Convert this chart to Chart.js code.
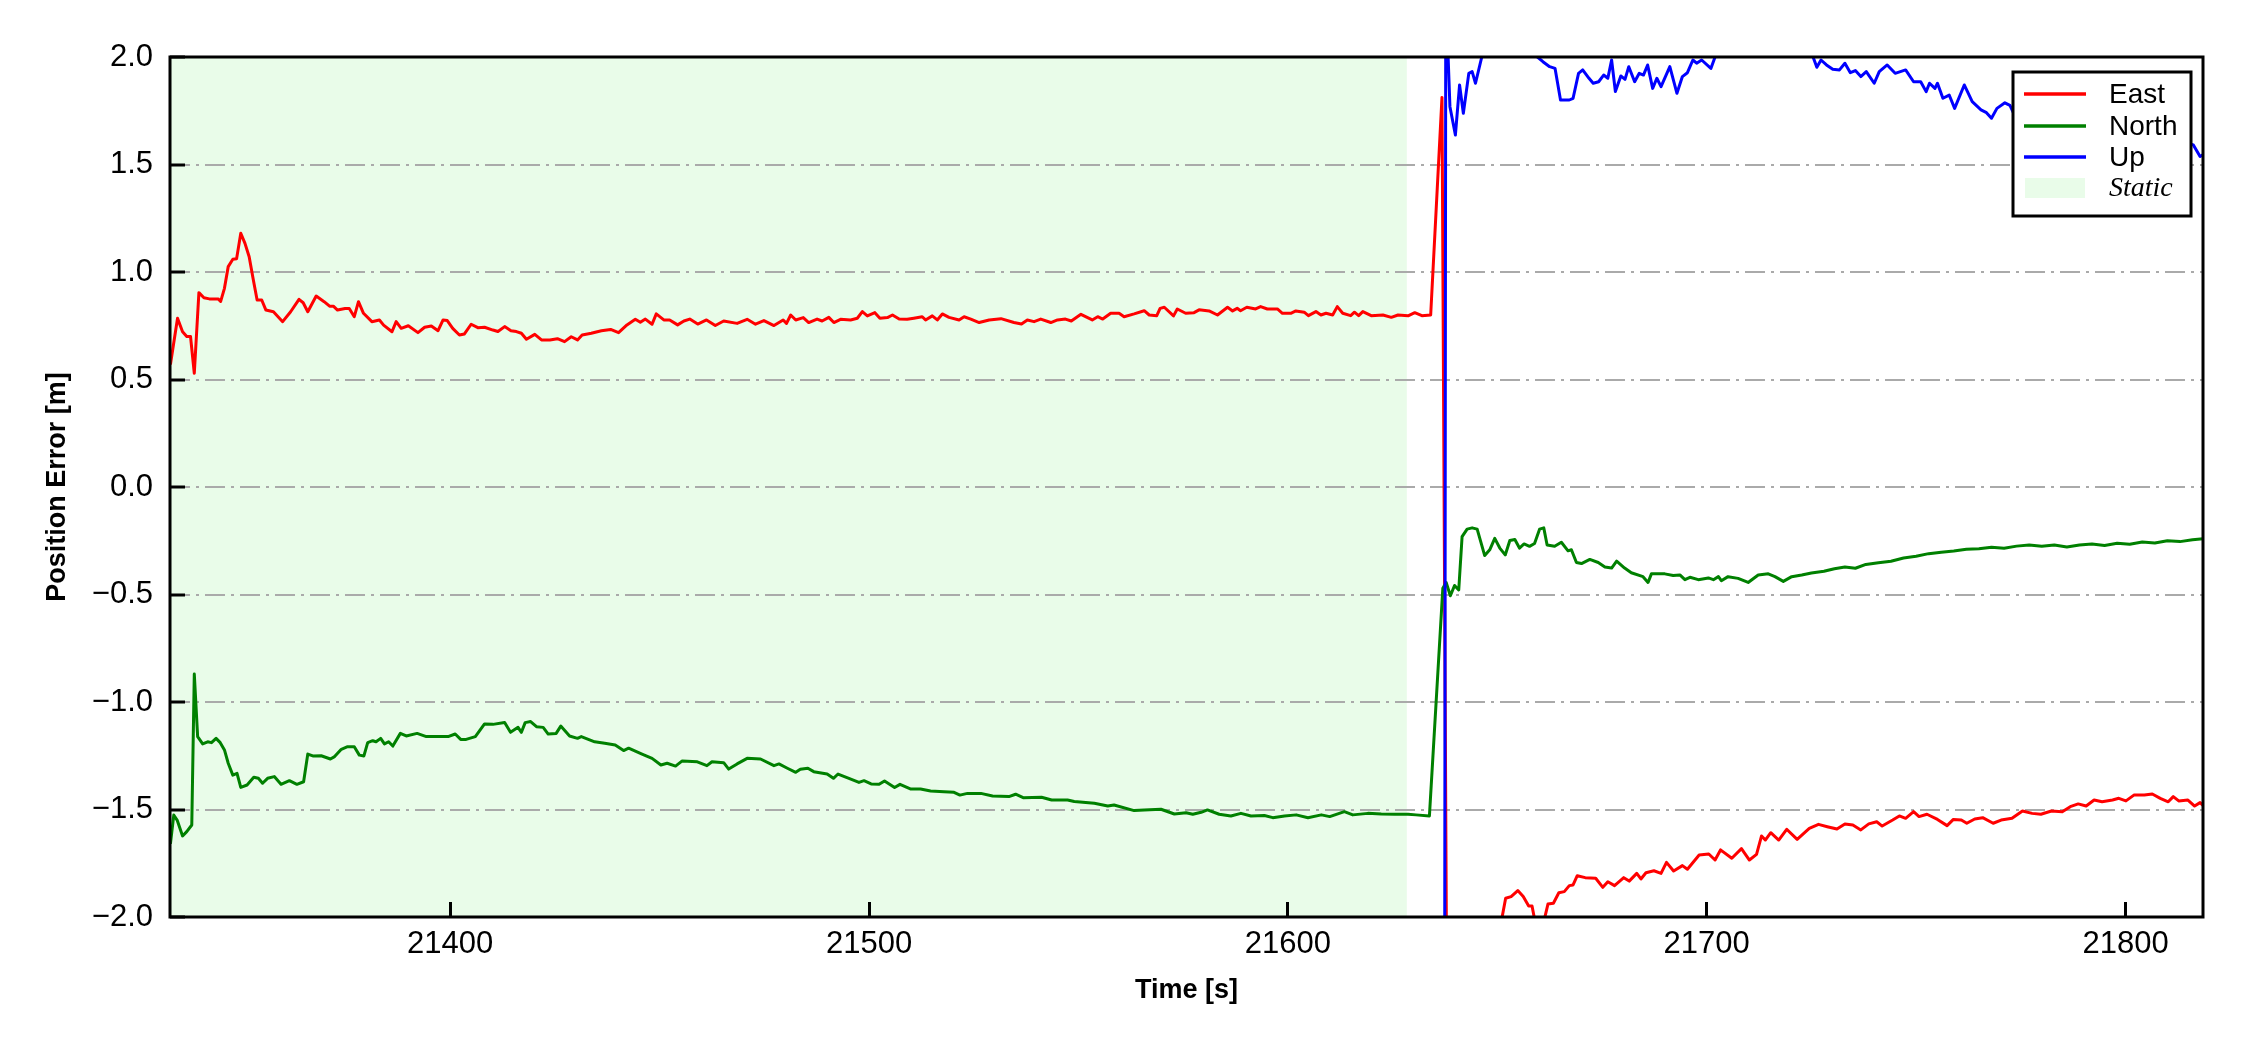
<!DOCTYPE html>
<html>
<head>
<meta charset="utf-8">
<script src="https://cdn.jsdelivr.net/npm/chart.js@4.4.1/dist/chart.umd.min.js"></script>
<style>
  html, body { margin: 0; padding: 0; background: #fff; }
  #wrap { width: 2250px; height: 1050px; }
</style>
</head>
<body>
<div id="wrap"><canvas id="errorChart" width="2250" height="1050"></canvas></div>
<script>
// position error vs time
const eastTime = [21333.2, 21334.9, 21336.1, 21337.1, 21338.0, 21338.9, 21340.0, 21341.2, 21342.5, 21344.6, 21345.2, 21346.1, 21347.0, 21348.1, 21349.0, 21350.0, 21351.0, 21352.0, 21353.0, 21353.9, 21355.0, 21356.0, 21357.8, 21360.0, 21361.9, 21363.9, 21364.9, 21366.0, 21368.0, 21369.9, 21371.2, 21372.1, 21373.1, 21374.9, 21375.9, 21377.1, 21378.1, 21379.3, 21381.3, 21383.1, 21384.1, 21386.1, 21387.1, 21388.3, 21390.0, 21392.3, 21393.9, 21395.5, 21397.1, 21398.3, 21399.3, 21400.6, 21402.2, 21403.4, 21405.0, 21406.6, 21408.2, 21410.2, 21411.4, 21413.0, 21414.5, 21415.8, 21417.0, 21418.2, 21420.2, 21421.8, 21423.8, 21425.6, 21427.3, 21428.9, 21430.4, 21431.5, 21433.7, 21436.1, 21438.3, 21440.2, 21442.2, 21444.2, 21445.4, 21446.6, 21448.2, 21449.2, 21451.0, 21452.4, 21454.3, 21455.8, 21457.2, 21459.1, 21461.2, 21463.3, 21465.3, 21468.5, 21470.9, 21472.9, 21474.9, 21477.3, 21479.5, 21480.3, 21481.3, 21482.5, 21484.3, 21485.6, 21487.6, 21488.8, 21490.4, 21491.6, 21493.2, 21495.6, 21497.2, 21498.4, 21499.6, 21501.4, 21502.6, 21504.4, 21505.6, 21507.2, 21509.1, 21510.7, 21512.7, 21513.5, 21515.1, 21516.3, 21517.5, 21519.1, 21521.5, 21522.7, 21524.3, 21526.3, 21528.7, 21531.5, 21534.6, 21536.4, 21537.8, 21539.4, 21541.0, 21543.4, 21545.0, 21546.9, 21548.3, 21550.6, 21553.3, 21554.6, 21555.8, 21557.7, 21559.7, 21560.9, 21563.3, 21565.7, 21566.9, 21568.7, 21569.5, 21570.5, 21572.7, 21573.6, 21575.6, 21577.6, 21578.8, 21581.2, 21583.2, 21585.6, 21586.8, 21587.9, 21588.7, 21590.2, 21592.3, 21593.5, 21595.1, 21597.5, 21598.7, 21600.7, 21601.9, 21603.9, 21604.9, 21606.7, 21607.9, 21609.1, 21610.7, 21611.8, 21613.1, 21615.0, 21615.9, 21616.9, 21617.9, 21619.9, 21622.7, 21624.7, 21626.3, 21628.7, 21630.3, 21632.0, 21634.1, 21636.8, 21638.0, 21642.0, 21646.0, 21650.2, 21652.0, 21653.3, 21654.9, 21656.2, 21657.5, 21658.3, 21659.8, 21660.4, 21662.1, 21663.4, 21664.7, 21666.0, 21667.2, 21668.1, 21669.1, 21671.0, 21673.5, 21675.2, 21676.4, 21678.0, 21680.2, 21681.5, 21683.3, 21684.3, 21685.5, 21687.4, 21689.1, 21690.4, 21692.1, 21694.2, 21695.4, 21698.2, 21700.5, 21702.0, 21703.3, 21706.0, 21708.3, 21710.2, 21711.9, 21713.1, 21714.0, 21715.3, 21717.2, 21719.1, 21721.6, 21724.5, 21726.7, 21728.8, 21731.1, 21733.0, 21734.9, 21736.8, 21738.7, 21740.6, 21741.9, 21744.4, 21746.0, 21747.5, 21749.4, 21750.7, 21752.6, 21755.1, 21757.4, 21758.9, 21760.8, 21762.1, 21764.0, 21765.9, 21768.4, 21770.3, 21772.9, 21775.4, 21777.7, 21779.8, 21782.3, 21784.9, 21786.8, 21788.7, 21790.6, 21792.5, 21794.4, 21796.9, 21798.4, 21800.1, 21802.0, 21804.5, 21806.4, 21808.3, 21810.2, 21811.4, 21812.7, 21814.9, 21816.5, 21817.8, 21819.0];
const eastErr = [0.57, 0.785, 0.722, 0.70, 0.70, 0.529, 0.904, 0.88, 0.875, 0.875, 0.863, 0.924, 1.025, 1.059, 1.062, 1.18, 1.133, 1.071, 0.963, 0.870, 0.87, 0.823, 0.815, 0.769, 0.815, 0.873, 0.857, 0.815, 0.888, 0.862, 0.841, 0.841, 0.823, 0.83, 0.83, 0.792, 0.862, 0.808, 0.769, 0.777, 0.753, 0.722, 0.769, 0.738, 0.75, 0.718, 0.743, 0.749, 0.727, 0.777, 0.774, 0.738, 0.707, 0.712, 0.757, 0.741, 0.743, 0.73, 0.723, 0.746, 0.727, 0.723, 0.715, 0.687, 0.71, 0.684, 0.684, 0.690, 0.676, 0.699, 0.684, 0.707, 0.715, 0.727, 0.733, 0.718, 0.754, 0.780, 0.766, 0.781, 0.757, 0.805, 0.777, 0.777, 0.754, 0.772, 0.781, 0.758, 0.777, 0.751, 0.772, 0.761, 0.780, 0.757, 0.774, 0.751, 0.777, 0.761, 0.800, 0.777, 0.788, 0.765, 0.781, 0.772, 0.789, 0.765, 0.780, 0.777, 0.785, 0.816, 0.796, 0.811, 0.785, 0.788, 0.800, 0.781, 0.780, 0.785, 0.792, 0.777, 0.796, 0.777, 0.805, 0.789, 0.777, 0.792, 0.781, 0.765, 0.777, 0.783, 0.765, 0.758, 0.777, 0.769, 0.781, 0.765, 0.777, 0.781, 0.772, 0.803, 0.777, 0.792, 0.781, 0.808, 0.808, 0.792, 0.805, 0.820, 0.800, 0.797, 0.831, 0.836, 0.796, 0.828, 0.808, 0.811, 0.824, 0.819, 0.800, 0.836, 0.819, 0.831, 0.820, 0.836, 0.828, 0.839, 0.828, 0.828, 0.808, 0.808, 0.819, 0.813, 0.797, 0.816, 0.800, 0.808, 0.800, 0.839, 0.808, 0.797, 0.813, 0.797, 0.816, 0.797, 0.800, 0.789, 0.800, 0.796, 0.811, 0.797, 0.800, 1.812, -2.6, -2.4, -2.3, -2.1, -1.913, -1.905, -1.877, -1.905, -1.949, -1.949, -2.1, -2.08, -1.94, -1.936, -1.887, -1.882, -1.854, -1.851, -1.808, -1.817, -1.820, -1.862, -1.836, -1.854, -1.817, -1.833, -1.797, -1.823, -1.794, -1.785, -1.797, -1.746, -1.786, -1.761, -1.778, -1.712, -1.707, -1.735, -1.688, -1.727, -1.682, -1.735, -1.709, -1.623, -1.642, -1.608, -1.642, -1.592, -1.639, -1.588, -1.569, -1.580, -1.591, -1.567, -1.572, -1.595, -1.567, -1.557, -1.577, -1.549, -1.530, -1.541, -1.510, -1.533, -1.522, -1.546, -1.575, -1.546, -1.549, -1.564, -1.544, -1.538, -1.564, -1.549, -1.541, -1.507, -1.518, -1.522, -1.507, -1.510, -1.487, -1.474, -1.484, -1.456, -1.464, -1.456, -1.448, -1.460, -1.433, -1.433, -1.428, -1.448, -1.464, -1.440, -1.460, -1.456, -1.484, -1.468, -1.490];

const northTime = [21333.2, 21334.0, 21334.8, 21336.1, 21337.1, 21338.3, 21338.9, 21339.7, 21340.9, 21342.1, 21343.0, 21344.1, 21345.1, 21346.1, 21347.0, 21348.1, 21349.1, 21350.0, 21351.5, 21353.1, 21354.2, 21355.2, 21356.4, 21358.0, 21359.6, 21361.6, 21363.4, 21365.0, 21366.0, 21367.2, 21369.2, 21371.4, 21372.4, 21374.0, 21375.5, 21377.1, 21378.3, 21379.4, 21380.3, 21381.5, 21382.3, 21383.4, 21384.3, 21385.3, 21386.3, 21388.1, 21389.5, 21392.1, 21394.3, 21397.1, 21399.5, 21401.2, 21402.5, 21403.8, 21406.0, 21408.2, 21410.2, 21413.0, 21414.4, 21416.2, 21417.0, 21417.9, 21419.2, 21420.6, 21422.2, 21423.4, 21425.3, 21426.4, 21428.5, 21430.4, 21431.3, 21434.5, 21436.9, 21439.4, 21441.4, 21442.6, 21445.8, 21448.2, 21450.3, 21451.8, 21453.8, 21455.4, 21459.0, 21461.3, 21462.5, 21465.3, 21466.5, 21468.5, 21470.9, 21474.1, 21477.3, 21478.5, 21480.5, 21482.5, 21483.6, 21485.4, 21486.8, 21490.0, 21491.5, 21492.6, 21495.2, 21497.6, 21498.8, 21500.5, 21502.4, 21503.7, 21506.1, 21507.4, 21510.0, 21512.3, 21514.7, 21517.9, 21520.3, 21521.7, 21523.5, 21526.7, 21529.5, 21533.4, 21535.0, 21536.8, 21541.2, 21543.6, 21547.4, 21549.0, 21553.8, 21557.0, 21558.5, 21563.3, 21565.7, 21569.7, 21572.9, 21575.7, 21577.3, 21579.3, 21580.8, 21583.6, 21586.4, 21588.8, 21591.2, 21594.4, 21596.4, 21599.2, 21602.0, 21604.8, 21608.0, 21610.0, 21613.5, 21615.5, 21619.1, 21622.3, 21625.5, 21628.7, 21630.6, 21633.8, 21637.0, 21637.8, 21638.8, 21639.8, 21640.8, 21641.6, 21642.8, 21644.0, 21645.2, 21647.0, 21648.2, 21649.4, 21650.6, 21651.9, 21653.0, 21654.2, 21655.3, 21656.4, 21657.7, 21658.9, 21660.1, 21661.1, 21661.9, 21663.7, 21665.3, 21666.9, 21667.7, 21668.9, 21670.1, 21672.1, 21674.1, 21675.7, 21677.3, 21678.5, 21680.4, 21682.0, 21684.8, 21686.0, 21686.8, 21690.0, 21692.0, 21693.6, 21694.8, 21696.0, 21698.0, 21700.4, 21701.6, 21702.8, 21703.5, 21705.1, 21707.5, 21709.9, 21712.3, 21714.7, 21716.3, 21718.3, 21720.3, 21722.7, 21725.0, 21728.0, 21730.5, 21733.0, 21735.5, 21738.0, 21741.0, 21744.0, 21747.0, 21750.0, 21753.0, 21756.0, 21759.0, 21762.0, 21765.0, 21768.0, 21771.0, 21774.0, 21777.0, 21780.0, 21783.0, 21786.0, 21789.0, 21792.0, 21795.0, 21798.0, 21801.0, 21804.0, 21807.0, 21810.0, 21813.0, 21816.0, 21819.0];
const northErr = [-1.66, -1.526, -1.549, -1.623, -1.603, -1.572, -0.870, -1.161, -1.195, -1.185, -1.189, -1.169, -1.189, -1.223, -1.285, -1.340, -1.332, -1.397, -1.386, -1.350, -1.355, -1.378, -1.355, -1.347, -1.383, -1.366, -1.383, -1.371, -1.242, -1.251, -1.250, -1.265, -1.254, -1.220, -1.208, -1.208, -1.247, -1.251, -1.189, -1.180, -1.185, -1.169, -1.195, -1.185, -1.205, -1.146, -1.158, -1.146, -1.161, -1.161, -1.161, -1.149, -1.174, -1.174, -1.161, -1.102, -1.104, -1.095, -1.141, -1.118, -1.141, -1.096, -1.091, -1.115, -1.118, -1.149, -1.146, -1.112, -1.158, -1.169, -1.161, -1.185, -1.192, -1.200, -1.226, -1.215, -1.242, -1.262, -1.293, -1.285, -1.298, -1.274, -1.278, -1.296, -1.278, -1.282, -1.312, -1.288, -1.262, -1.265, -1.296, -1.288, -1.308, -1.327, -1.313, -1.308, -1.324, -1.335, -1.355, -1.335, -1.355, -1.374, -1.366, -1.381, -1.383, -1.367, -1.398, -1.383, -1.405, -1.405, -1.414, -1.417, -1.420, -1.433, -1.425, -1.425, -1.437, -1.440, -1.429, -1.445, -1.443, -1.456, -1.456, -1.463, -1.471, -1.484, -1.479, -1.505, -1.502, -1.499, -1.521, -1.515, -1.522, -1.513, -1.502, -1.522, -1.530, -1.518, -1.530, -1.528, -1.538, -1.530, -1.525, -1.538, -1.525, -1.533, -1.510, -1.525, -1.518, -1.521, -1.522, -1.522, -1.525, -1.530, -0.471, -0.444, -0.506, -0.458, -0.479, -0.231, -0.196, -0.190, -0.196, -0.319, -0.292, -0.239, -0.284, -0.316, -0.249, -0.244, -0.284, -0.265, -0.276, -0.263, -0.196, -0.190, -0.270, -0.276, -0.257, -0.297, -0.292, -0.351, -0.356, -0.337, -0.351, -0.372, -0.377, -0.345, -0.377, -0.399, -0.417, -0.444, -0.404, -0.404, -0.412, -0.409, -0.431, -0.420, -0.431, -0.423, -0.431, -0.417, -0.436, -0.417, -0.425, -0.444, -0.409, -0.404, -0.417, -0.439, -0.417, -0.409, -0.400, -0.392, -0.380, -0.372, -0.378, -0.360, -0.352, -0.345, -0.330, -0.322, -0.310, -0.303, -0.298, -0.290, -0.287, -0.280, -0.285, -0.275, -0.270, -0.276, -0.270, -0.279, -0.270, -0.265, -0.272, -0.262, -0.266, -0.256, -0.260, -0.250, -0.254, -0.245, -0.240];

const upTime = [21637.4, 21637.7, 21638.7, 21640.0, 21641.0, 21641.9, 21643.2, 21644.0, 21644.8, 21646.3, 21648.0, 21652.0, 21656.0, 21659.6, 21660.9, 21662.5, 21663.8, 21665.1, 21667.2, 21668.1, 21669.4, 21670.4, 21671.9, 21672.9, 21674.2, 21675.4, 21676.4, 21677.3, 21678.2, 21679.5, 21680.5, 21681.4, 21682.8, 21683.9, 21684.9, 21685.9, 21687.1, 21688.1, 21689.1, 21691.2, 21692.9, 21694.2, 21695.4, 21696.7, 21697.6, 21698.8, 21701.0, 21702.0, 21706.0, 21712.0, 21718.0, 21725.4, 21726.3, 21727.3, 21728.6, 21730.1, 21731.7, 21733.0, 21734.3, 21735.5, 21736.8, 21738.1, 21740.0, 21741.2, 21743.1, 21745.0, 21747.5, 21749.4, 21751.1, 21752.4, 21753.2, 21754.5, 21755.1, 21756.4, 21757.9, 21759.2, 21761.5, 21763.4, 21765.5, 21766.8, 21768.0, 21769.3, 21771.2, 21772.4, 21773.5, 21777.0, 21781.0, 21785.0, 21789.0, 21793.0, 21797.0, 21801.0, 21805.0, 21809.0, 21813.0, 21816.2, 21817.8, 21819.0];
const upErr = [-3.0, 2.3, 1.769, 1.637, 1.870, 1.738, 1.924, 1.932, 1.878, 2.0, 2.1, 2.15, 2.1, 2.0, 1.978, 1.955, 1.947, 1.800, 1.800, 1.808, 1.924, 1.940, 1.901, 1.878, 1.885, 1.916, 1.901, 1.986, 1.839, 1.912, 1.896, 1.955, 1.885, 1.924, 1.916, 1.963, 1.854, 1.901, 1.862, 1.955, 1.831, 1.909, 1.927, 1.986, 1.971, 1.986, 1.947, 2.0, 2.1, 2.15, 2.1, 2.0, 1.952, 1.986, 1.963, 1.943, 1.940, 1.971, 1.927, 1.937, 1.909, 1.932, 1.878, 1.932, 1.963, 1.924, 1.940, 1.885, 1.885, 1.839, 1.878, 1.854, 1.878, 1.808, 1.823, 1.761, 1.870, 1.792, 1.754, 1.741, 1.715, 1.761, 1.787, 1.775, 1.730, 1.71, 1.72, 1.68, 1.67, 1.68, 1.65, 1.66, 1.63, 1.64, 1.61, 1.591, 1.537, 1.552];

const seriesNames = ['East', 'North', 'Up'];
const seriesColors = ['#ff0000', '#008000', '#0000ff'];
const staticLabel = 'Static';
const staticSpan = [21333.1, 21628.4];
const timeRange = [21333.1, 21818.5];
const errRange = [-2.0, 2.0];
const timeTicks = [21400, 21500, 21600, 21700, 21800];
const errTicks = [-2.0, -1.5, -1.0, -0.5, 0.0, 0.5, 1.0, 1.5, 2.0];

const staticFill = 'rgba(144, 238, 144, 0.2)';
const tickFont = { family: 'Liberation Sans, Arial, sans-serif', size: 31 };
const titleFont = { family: 'Liberation Sans, Arial, sans-serif', size: 27, weight: 'bold' };

function toPoints(t, v) {
    return t.map((x, i) => ({ x: x, y: v[i] }));
}

const staticShade = {
    id: 'staticShade',
    beforeDraw(chart) {
        const ctx = chart.ctx;
        const area = chart.chartArea;
        const xs = chart.scales.x;
        ctx.save();
        ctx.fillStyle = '#ffffff';
        ctx.fillRect(0, 0, chart.width, chart.height);
        const x0 = Math.max(area.left, xs.getPixelForValue(staticSpan[0]));
        const x1 = Math.min(area.right, xs.getPixelForValue(staticSpan[1]));
        ctx.fillStyle = staticFill;
        ctx.fillRect(x0, area.top, x1 - x0, area.bottom - area.top);
        ctx.restore();
    }
};

// frame on all four sides plus the boxed legend in the upper right corner
const frameLegend = {
    id: 'frameLegend',
    afterDraw(chart) {
        const ctx = chart.ctx;
        const area = chart.chartArea;
        ctx.save();
        ctx.lineWidth = 3;
        ctx.strokeStyle = '#000';
        ctx.strokeRect(area.left, area.top, area.right - area.left, area.bottom - area.top);

        const boxW = 178, boxH = 144;
        const bx = area.right - 12 - boxW;
        const by = area.top + 15;
        ctx.fillStyle = '#fff';
        ctx.fillRect(bx, by, boxW, boxH);
        ctx.lineWidth = 3;
        ctx.strokeRect(bx, by, boxW, boxH);

        const rows = [22, 54, 85, 116];
        ctx.textBaseline = 'middle';
        ctx.textAlign = 'left';
        chart.data.datasets.forEach((ds, i) => {
            const y = by + rows[i];
            ctx.strokeStyle = ds.borderColor;
            ctx.lineWidth = 3.5;
            ctx.beginPath();
            ctx.moveTo(bx + 11, y);
            ctx.lineTo(bx + 73, y);
            ctx.stroke();
            ctx.fillStyle = '#000';
            ctx.font = '28px "Liberation Sans", Arial, sans-serif';
            ctx.fillText(ds.label, bx + 96, y + 1);
        });
        const ys = by + rows[3];
        ctx.fillStyle = staticFill;
        ctx.fillRect(bx + 12, ys - 10, 60, 20);
        ctx.fillStyle = '#000';
        ctx.font = 'italic 28px "Liberation Serif", "Times New Roman", serif';
        ctx.fillText(staticLabel, bx + 96, ys + 1);
        ctx.restore();
    }
};

const ctx = document.getElementById('errorChart').getContext('2d');
const errorChart = new Chart(ctx, {
    type: 'line',
    data: {
        datasets: [
            { label: seriesNames[0], data: toPoints(eastTime, eastErr), borderColor: seriesColors[0], order: 3 },
            { label: seriesNames[1], data: toPoints(northTime, northErr), borderColor: seriesColors[1], order: 2 },
            { label: seriesNames[2], data: toPoints(upTime, upErr), borderColor: seriesColors[2], order: 1 }
        ]
    },
    options: {
        responsive: false,
        animation: false,
        devicePixelRatio: 1,
        layout: { padding: { left: 0, top: 57, right: 47, bottom: 0 } },
        elements: {
            line: { borderWidth: 3, tension: 0, fill: false, borderJoinStyle: 'round' },
            point: { radius: 0, hoverRadius: 0 }
        },
        plugins: {
            legend: { display: false },
            tooltip: { enabled: false }
        },
        scales: {
            x: {
                type: 'linear',
                min: timeRange[0],
                max: timeRange[1],
                afterBuildTicks: s => { s.ticks = timeTicks.map(v => ({ value: v })); },
                afterFit: s => { s.height = 133; },
                ticks: {
                    font: tickFont,
                    color: '#000',
                    padding: 24,
                    maxRotation: 0,
                    callback: v => String(v)
                },
                grid: {
                    drawOnChartArea: false,
                    drawTicks: true,
                    tickLength: -15,
                    tickWidth: 3,
                    tickColor: '#000'
                },
                border: { display: false },
                title: {
                    display: true,
                    text: 'Time [s]',
                    font: titleFont,
                    color: '#000',
                    padding: { top: 0, bottom: 43 }
                }
            },
            y: {
                min: errRange[0],
                max: errRange[1],
                afterBuildTicks: s => { s.ticks = errTicks.map(v => ({ value: v })); },
                afterFit: s => { s.width = 170; },
                ticks: {
                    font: tickFont,
                    color: '#000',
                    padding: 32,
                    callback: v => v.toFixed(1).replace('-', '\u2212')
                },
                grid: {
                    color: '#aaaaaa',
                    lineWidth: 2,
                    drawTicks: true,
                    tickLength: -15,
                    tickWidth: 3,
                    tickColor: '#000',
                    tickBorderDash: []
                },
                border: { display: false, dash: [20, 6, 3, 6] },
                title: {
                    display: true,
                    text: 'Position Error [m]',
                    font: titleFont,
                    color: '#000',
                    padding: { top: 41, bottom: 0 }
                }
            }
        }
    },
    plugins: [staticShade, frameLegend]
});
</script>
</body>
</html>
